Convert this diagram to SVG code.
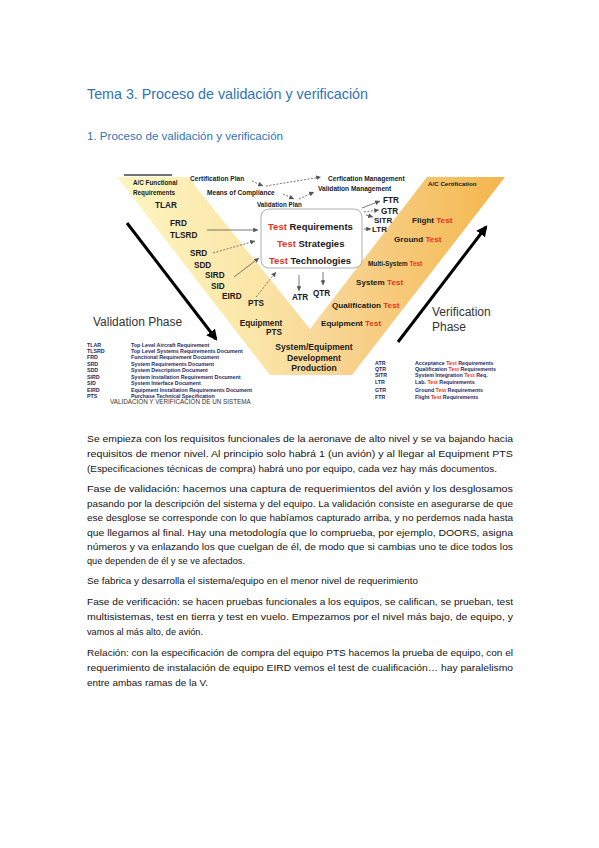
<svg xmlns="http://www.w3.org/2000/svg" width="599" height="848" viewBox="0 0 599 848">
<defs>
<style>
.h1{font-family:"Liberation Sans",Arial,sans-serif;fill:#2e74b5;}
.lb{font-family:"Liberation Sans",Arial,sans-serif;font-weight:bold;fill:#1a1a1a;}
.rg{font-family:"Liberation Sans",Arial,sans-serif;fill:#333;}
.red{fill:#e8321e;}
.leg{font-family:"Liberation Sans",Arial,sans-serif;font-weight:bold;font-size:5.3px;fill:#1f2a5e;}
.body{font-family:"Liberation Sans",Arial,sans-serif;font-size:9.8px;fill:#141414;}
.conn{stroke:#555;stroke-width:0.8;fill:none;}
.dash{stroke-dasharray:2 1.5;}
.big{stroke:#000;stroke-width:3;fill:none;}
</style>
<marker id="ah" viewBox="0 0 6 6" refX="6" refY="3" markerWidth="6" markerHeight="6" orient="auto" markerUnits="strokeWidth"><path d="M0,0 L6,3 L0,6 z" fill="#555"/></marker>
<marker id="bh" viewBox="0 0 10 10" refX="8" refY="5" markerWidth="11" markerHeight="11" orient="auto" markerUnits="userSpaceOnUse"><path d="M0,0 L10,5 L0,10 z" fill="#000"/></marker>
<linearGradient id="vg" x1="117" y1="0" x2="505" y2="0" gradientUnits="userSpaceOnUse">
<stop offset="0" stop-color="#fdf6c2"/>
<stop offset="0.35" stop-color="#fbe6a8"/>
<stop offset="0.55" stop-color="#f8d595"/>
<stop offset="1" stop-color="#f4b64c"/>
</linearGradient>
</defs>
<rect width="599" height="848" fill="#fff"/>

<g id="title">
<text class="h1" x="87" y="99" font-size="14.5" textLength="281" lengthAdjust="spacingAndGlyphs">Tema 3. Proceso de validación y verificación</text>
</g>
<g id="subtitle">
<text class="h1" x="87" y="140" font-size="11.5" textLength="196" lengthAdjust="spacingAndGlyphs">1. Proceso de validación y verificación</text>
</g>

<g id="v-shape">
<polygon points="117,177 188,177 310,329 427,177 505,177 352,375 270,375" fill="url(#vg)"/>
<line x1="124" y1="175" x2="172" y2="175" stroke="#444" stroke-width="1.5"/>
</g>

<g id="connectors">
<line class="big" x1="127" y1="223" x2="216" y2="339" marker-end="url(#bh)"/>
<line class="big" x1="398" y1="342" x2="486" y2="227" marker-end="url(#bh)"/>
<line class="conn dash" x1="252" y1="181" x2="263" y2="186" marker-end="url(#ah)"/>
<line class="conn dash" x1="266" y1="186" x2="321" y2="177" marker-end="url(#ah)"/>
<line class="conn dash" x1="283" y1="194" x2="294" y2="199" marker-end="url(#ah)"/>
<line class="conn dash" x1="299" y1="199" x2="314" y2="192" marker-end="url(#ah)"/>
<line class="conn" x1="207" y1="230" x2="258" y2="230" marker-end="url(#ah)"/>
<line class="conn dash" x1="213" y1="253" x2="255" y2="241" marker-end="url(#ah)"/>
<line class="conn" x1="234" y1="277" x2="259" y2="258" marker-end="url(#ah)"/>
<line class="conn dash" x1="256" y1="297" x2="276" y2="272" marker-end="url(#ah)"/>
<line class="conn" x1="299" y1="275" x2="299" y2="291" marker-end="url(#ah)"/>
<line class="conn" x1="323" y1="272" x2="323" y2="285" marker-end="url(#ah)"/>
<line class="conn" x1="362" y1="208" x2="380" y2="201" marker-end="url(#ah)"/>
<line class="conn dash" x1="364" y1="212" x2="379" y2="210" marker-end="url(#ah)"/>
<line class="conn" x1="366" y1="215" x2="373" y2="217" marker-end="url(#ah)"/>
<line class="conn" x1="364" y1="229" x2="371" y2="229" marker-end="url(#ah)"/>
</g>

<g id="test-box">
<rect x="261" y="209" width="101" height="59" rx="8" fill="#fff" stroke="#9a9a9a" stroke-width="0.8"/>
<text class="lb" x="268" y="229.5" font-size="9.5"><tspan class="red">Test</tspan> Requirements</text>
<text class="lb" x="277" y="246.5" font-size="9.5"><tspan class="red">Test</tspan> Strategies</text>
<text class="lb" x="269" y="263.5" font-size="9.5"><tspan class="red">Test</tspan> Technologies</text>
</g>

<g id="ac-functional"><text class="lb" x="133" y="185" font-size="6.3">A/C Functional</text><text class="lb" x="133" y="194.5" font-size="6.3">Requirements</text></g>
<g id="tlar"><text class="lb" x="155" y="208" font-size="8.2">TLAR</text></g>
<g id="frd"><text class="lb" x="170" y="226" font-size="8.2">FRD</text></g>
<g id="tlsrd"><text class="lb" x="170" y="238" font-size="8.2">TLSRD</text></g>
<g id="srd"><text class="lb" x="190" y="256" font-size="8.2">SRD</text></g>
<g id="sdd"><text class="lb" x="194" y="268" font-size="8.2">SDD</text></g>
<g id="sird"><text class="lb" x="205" y="278" font-size="8.2">SIRD</text></g>
<g id="sid"><text class="lb" x="211" y="289" font-size="8.2">SID</text></g>
<g id="eird"><text class="lb" x="222" y="299" font-size="8.2">EIRD</text></g>
<g id="pts"><text class="lb" x="248" y="306" font-size="8.2">PTS</text></g>
<g id="equipment-pts"><text class="lb" x="261" y="326" font-size="8.2" text-anchor="middle">Equipment</text><text class="lb" x="274" y="335" font-size="8.2" text-anchor="middle">PTS</text></g>
<g id="system-equipment"><text class="lb" x="314" y="350" font-size="8.6" text-anchor="middle">System/Equipment</text><text class="lb" x="314" y="360.5" font-size="8.6" text-anchor="middle">Development</text><text class="lb" x="314" y="371" font-size="8.6" text-anchor="middle">Production</text></g>

<g id="certification-plan"><text class="lb" x="190" y="180.5" font-size="6.6">Certification Plan</text></g>
<g id="means-of-compliance"><text class="lb" x="207" y="194.5" font-size="6.6">Means of Compliance</text></g>
<g id="validation-plan"><text class="lb" x="257" y="206.5" font-size="6.3">Validation Plan</text></g>
<g id="certification-management"><text class="lb" x="328" y="180.5" font-size="6.6">Cerfication Management</text></g>
<g id="validation-management"><text class="lb" x="318" y="190.5" font-size="6.6">Validation Management</text></g>

<g id="atr"><text class="lb" x="292" y="300" font-size="8.2" font-weight="normal">ATR</text></g>
<g id="qtr"><text class="lb" x="313" y="296" font-size="8.2" font-weight="normal">QTR</text></g>
<g id="ftr"><text class="lb" x="383" y="203" font-size="8.2">FTR</text></g>
<g id="gtr"><text class="lb" x="381" y="214" font-size="8.2">GTR</text></g>
<g id="sitr"><text class="lb" x="374" y="223" font-size="8">SITR</text></g>
<g id="ltr"><text class="lb" x="372" y="232" font-size="8">LTR</text></g>

<g id="ac-certification"><text class="lb" x="428" y="186" font-size="6.2">A/C Certification</text></g>
<g id="flight-test"><text class="lb" x="412" y="223" font-size="8.1">Flight <tspan class="red">Test</tspan></text></g>
<g id="ground-test"><text class="lb" x="394" y="242" font-size="8.1">Ground <tspan class="red">Test</tspan></text></g>
<g id="multi-system-test"><text class="lb" x="368" y="265.5" font-size="6.4">Multi-System <tspan class="red">Test</tspan></text></g>
<g id="system-test"><text class="lb" x="356" y="285" font-size="8.1">System <tspan class="red">Test</tspan></text></g>
<g id="qualification-test"><text class="lb" x="332" y="308" font-size="8.1">Qualification <tspan class="red">Test</tspan></text></g>
<g id="equipment-test"><text class="lb" x="321" y="326" font-size="8.1">Equipment <tspan class="red">Test</tspan></text></g>

<g id="validation-phase"><text class="rg" x="93" y="326" font-size="12">Validation Phase</text></g>
<g id="verification-phase"><text class="rg" x="432" y="316" font-size="12">Verification</text><text class="rg" x="432" y="331" font-size="12">Phase</text></g>

<g id="legend-left">
<text class="leg" x="87" y="347">TLAR</text><text class="leg" x="131" y="347">Top Level Aircraft Requirement</text>
<text class="leg" x="87" y="353">TLSRD</text><text class="leg" x="131" y="353">Top Level Systems Requirements Document</text>
<text class="leg" x="87" y="359">FRD</text><text class="leg" x="131" y="359">Functional Requirement Document</text>
<text class="leg" x="87" y="365.5">SRD</text><text class="leg" x="131" y="365.5">System Requirements Document</text>
<text class="leg" x="87" y="372">SDD</text><text class="leg" x="131" y="372">System Description Document</text>
<text class="leg" x="87" y="378.5">SIRD</text><text class="leg" x="131" y="378.5">System Installation Requirement Document</text>
<text class="leg" x="87" y="385">SID</text><text class="leg" x="131" y="385">System Interface Document</text>
<text class="leg" x="87" y="391.5">EIRD</text><text class="leg" x="131" y="391.5">Equipment Installation Requirements Document</text>
<text class="leg" x="87" y="397.5">PTS</text><text class="leg" x="131" y="397.5">Purchase Technical Specification</text>
<text class="rg" x="110" y="403.5" font-size="6.3" fill="#222">VALIDACIÓN Y VERIFICACIÓN DE UN SISTEMA</text>
</g>

<g id="legend-right">
<text class="leg" x="375" y="365">ATR</text><text class="leg" x="415" y="365">Acceptance <tspan class="red">Test</tspan> Requirements</text>
<text class="leg" x="375" y="371">QTR</text><text class="leg" x="415" y="371">Qualification <tspan class="red">Test</tspan> Requirements</text>
<text class="leg" x="375" y="377">SITR</text><text class="leg" x="415" y="377">System Integration <tspan class="red">Test</tspan> Req.</text>
<text class="leg" x="375" y="384" font-size="6">LTR</text><text class="leg" x="415" y="384" font-size="6">Lab. <tspan class="red">Test</tspan> Requirements</text>
<text class="leg" x="375" y="392">GTR</text><text class="leg" x="415" y="392">Ground <tspan class="red">Test</tspan> Requirements</text>
<text class="leg" x="375" y="399">FTR</text><text class="leg" x="415" y="399">Flight <tspan class="red">Test</tspan> Requirements</text>
</g>

<g id="body-text">
<text class="body" x="87" y="442" textLength="426" lengthAdjust="spacingAndGlyphs">Se empieza con los requisitos funcionales de la aeronave de alto nivel y se va bajando hacia</text>
<text class="body" x="87" y="457" textLength="426" lengthAdjust="spacingAndGlyphs">requisitos de menor nivel. Al principio solo habrá 1 (un avión) y al llegar al Equipment PTS</text>
<text class="body" x="87" y="472" textLength="410" lengthAdjust="spacingAndGlyphs">(Especificaciones técnicas de compra) habrá uno por equipo, cada vez hay más documentos.</text>
<text class="body" x="87" y="492" textLength="426" lengthAdjust="spacingAndGlyphs">Fase de validación: hacemos una captura de requerimientos del avión y los desglosamos</text>
<text class="body" x="87" y="506.5" textLength="426" lengthAdjust="spacingAndGlyphs">pasando por la descripción del sistema y del equipo. La validación consiste en asegurarse de que</text>
<text class="body" x="87" y="521" textLength="426" lengthAdjust="spacingAndGlyphs">ese desglose se corresponde con lo que habíamos capturado arriba, y no perdemos nada hasta</text>
<text class="body" x="87" y="535.5" textLength="426" lengthAdjust="spacingAndGlyphs">que llegamos al final. Hay una metodología que lo comprueba, por ejemplo, DOORS, asigna</text>
<text class="body" x="87" y="550" textLength="426" lengthAdjust="spacingAndGlyphs">números y va enlazando los que cuelgan de él, de modo que si cambias uno te dice todos los</text>
<text class="body" x="87" y="564" textLength="158" lengthAdjust="spacingAndGlyphs">que dependen de él y se ve afectados.</text>
<text class="body" x="87" y="584" textLength="331" lengthAdjust="spacingAndGlyphs">Se fabrica y desarrolla el sistema/equipo en el menor nivel de requerimiento</text>
<text class="body" x="87" y="605" textLength="426" lengthAdjust="spacingAndGlyphs">Fase de verificación: se hacen pruebas funcionales a los equipos, se califican, se prueban, test</text>
<text class="body" x="87" y="620" textLength="426" lengthAdjust="spacingAndGlyphs">multisistemas, test en tierra y test en vuelo. Empezamos por el nivel más bajo, de equipo, y</text>
<text class="body" x="87" y="635" textLength="116" lengthAdjust="spacingAndGlyphs">vamos al más alto, de avión.</text>
<text class="body" x="87" y="656" textLength="426" lengthAdjust="spacingAndGlyphs">Relación: con la especificación de compra del equipo PTS hacemos la prueba de equipo, con el</text>
<text class="body" x="87" y="671" textLength="426" lengthAdjust="spacingAndGlyphs">requerimiento de instalación de equipo EIRD vemos el test de cualificación… hay paralelismo</text>
<text class="body" x="87" y="686" textLength="121" lengthAdjust="spacingAndGlyphs">entre ambas ramas de la V.</text>
</g>
</svg>
